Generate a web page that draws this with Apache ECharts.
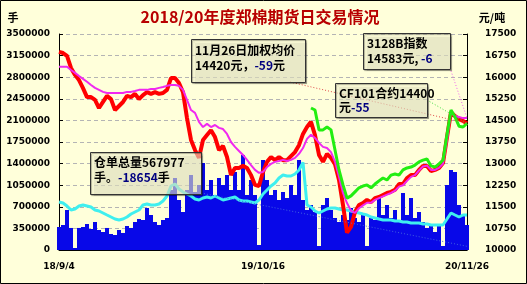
<!DOCTYPE html>
<html><head><meta charset="utf-8">
<script src="https://cdn.jsdelivr.net/npm/echarts/dist/echarts.min.js"></script>
<style>html,body{margin:0;padding:0;background:#FFFFDA}#c{width:527px;height:284px}</style>
</head><body><div id="c"></div>
<script>
// x-axis tick labels and the data index they sit at
const tickLabels = ['18/9/4', '19/10/16', '20/11/26'];
const tickIndex = [0, 51, 102];

// main futures price (元/吨, right axis) - red
const futures = [16880,16840,16740,16320,16080,15900,15620,15310,15310,15210,
 14930,15140,15350,15240,14860,15000,15140,15350,15310,15420,
 15240,15380,15480,15420,15480,15420,15450,15560,15970,15970,
 15800,15480,14580,13820,13470,13200,13820,13990,14160,13920,
 13470,13610,13230,12600,12850,12850,12920,12850,12600,12260,
 12220,12710,13060,13230,13120,13230,13120,13120,13260,13400,
 13640,14030,14270,14450,13990,13300,13060,13340,13200,12980,
 12430,11560,10600,10800,11320,11560,11630,11740,11660,11800,
 11840,11910,11980,12020,12090,12290,12290,12500,12600,12600,
 12780,12920,12920,12740,12780,12850,13020,13920,14790,14650,
 14550,14480,14400];

// 3128B spot index (元/吨, right axis) - magenta
const spotIndex = [16360,16360,16360,16250,16150,16040,15940,15840,15730,15630,
 15560,15490,15450,15450,15450,15450,15450,15490,15490,15520,
 15560,15560,15560,15590,15590,15630,15660,15700,15730,15730,
 15700,15560,15210,14860,14760,14450,14270,14380,14270,14340,
 14240,14200,14030,13750,13580,13440,13300,13130,12950,12780,
 12680,12710,12880,12990,13060,13090,13130,13090,13130,13200,
 13340,13540,13860,14000,13890,13720,13580,13540,13400,13060,
 12540,11980,11630,11360,11290,11450,11550,11640,11640,11740,
 11800,11860,11920,11980,12060,12200,12250,12400,12540,12600,
 12760,12900,12930,12780,12780,12850,12990,13820,14790,14650,
 14620,14580,14583];

// CF101 contract (元/吨, right axis) - green, listed from index cf101Start
const cf101Start = 63;
const cf101 = [14930,14860,14170,14170,14270,14170,13470,12780,12260,11800,
 11880,12020,12160,12220,12260,12160,12290,12400,12500,12430,
 12600,12640,12600,12780,12850,12880,12950,13060,13120,13160,
 12920,12880,12990,13120,14000,14860,14620,14300,14270,14400];

// warehouse receipts (手, left axis) - cyan
const receipts = [778000,762000,713000,648000,664000,713000,729000,713000,697000,648000,
 632000,600000,567000,535000,502000,486000,502000,535000,583000,616000,
 648000,729000,745000,729000,729000,745000,794000,875000,1037000,1070000,
 988000,940000,907000,875000,826000,810000,843000,859000,843000,875000,
 843000,810000,826000,843000,859000,810000,794000,794000,778000,762000,
 810000,907000,972000,1037000,1086000,1167000,1215000,1199000,1199000,1232000,
 1296000,1420000,729000,697000,632000,600000,632000,664000,681000,681000,
 664000,648000,648000,632000,616000,600000,583000,567000,535000,519000,
 502000,486000,486000,486000,470000,470000,454000,454000,438000,438000,
 438000,421000,421000,405000,405000,405000,405000,502000,600000,567000,
 535000,567000,567977];

// daily volume (手, left axis) - blue bars
const volume = [373000,405000,648000,357000,32000,357000,373000,421000,340000,454000,
 324000,292000,357000,259000,243000,324000,276000,389000,357000,454000,
 502000,486000,681000,567000,454000,405000,486000,519000,972000,1167000,
 810000,616000,972000,1215000,940000,1053000,1410000,972000,1134000,891000,
 1167000,1053000,1215000,972000,1264000,972000,1539000,891000,1134000,891000,
 81000,1458000,1134000,891000,972000,810000,940000,843000,1053000,891000,
 1458000,810000,648000,729000,616000,65000,729000,843000,648000,519000,
 454000,567000,486000,681000,519000,454000,567000,65000,519000,486000,
 843000,567000,729000,519000,648000,486000,924000,567000,843000,519000,
 616000,454000,357000,405000,292000,389000,65000,1053000,1296000,1264000,
 729000,567000,405000];

const categories = futures.map((_, i) => String(i));
const cfData = futures.map((_, i) => i < cf101Start ? null : cf101[i - cf101Start]);

const CJK = 'Noto Sans CJK SC';
const NUMF = 'DejaVu Sans';
const chart = echarts.init(document.getElementById('c'));

const axisLbl = {color: '#000', fontWeight: 'bold', fontSize: 9, fontFamily: NUMF};

const option = {
  backgroundColor: '#FFFFDA',
  animation: false,
  grid: {left: 59, right: 60, top: 34, bottom: 34},
  xAxis: {
    type: 'category', data: categories, boundaryGap: false,
    axisLine: {lineStyle: {color: '#000'}}, axisTick: {show: false},
    axisLabel: Object.assign({}, axisLbl, {
      margin: 12,
      interval: (i) => tickIndex.includes(i),
      formatter: (v, i) => { const k = tickIndex.indexOf(i); return k >= 0 ? tickLabels[k] : ''; }
    }),
    splitLine: {show: false}
  },
  yAxis: [
    {type: 'value', min: 0, max: 3500000, interval: 350000, position: 'left',
     axisLine: {show: true, lineStyle: {color: '#000'}},
     axisTick: {show: true, inside: true, length: 4, lineStyle: {color: '#000'}},
     axisLabel: Object.assign({}, axisLbl, {margin: 9, formatter: (v) => String(v)}),
     splitLine: {show: true, lineStyle: {color: '#B4B4B4', type: [4, 3]}}},
    {type: 'value', min: 10000, max: 17500, interval: 750, position: 'right',
     axisLine: {show: true, lineStyle: {color: '#000'}},
     axisTick: {show: true, inside: true, length: 4, lineStyle: {color: '#000'}},
     axisLabel: Object.assign({}, axisLbl, {margin: 18, formatter: (v) => String(v)}),
     splitLine: {show: false}}
  ],
  series: [
    {name: '成交量', type: 'bar', yAxisIndex: 0, data: volume, barCategoryGap: '0%',
     itemStyle: {color: '#0808E8'}, z: 1},
    {name: '仓单', type: 'line', yAxisIndex: 0, data: receipts, symbol: 'none',
     lineStyle: {color: '#3FEFEF', width: 3}, z: 2},
    {name: '主力', type: 'line', yAxisIndex: 1, data: futures, symbol: 'none',
     lineStyle: {color: '#FF0000', width: 4}, z: 3},
    {name: '3128B', type: 'line', yAxisIndex: 1, data: spotIndex, symbol: 'none',
     lineStyle: {color: '#F028F0', width: 2}, z: 4},
    {name: 'CF101', type: 'line', yAxisIndex: 1, data: cfData, symbol: 'none',
     lineStyle: {color: '#22EE11', width: 3}, z: 5}
  ]
};
chart.setOption(option);

function boxEl(x, y, w, h) {
  return {type: 'rect', z: 100, shape: {x: x, y: y, width: w, height: h},
    style: {fill: 'rgba(255,255,218,0.55)', stroke: '#333', lineWidth: 1,
      shadowColor: 'rgba(0,0,0,0.35)', shadowOffsetX: 1, shadowOffsetY: 1, shadowBlur: 1}};
}
function txt(x, y, text) {
  return {type: 'text', z: 101, x: x, y: y,
    style: {text: text, fill: '#000', fontFamily: CJK, fontWeight: 'bold', fontSize: 12,
      verticalAlign: 'middle', align: 'left',
      rich: {n: {fill: '#000080', fontFamily: CJK, fontWeight: 'bold', fontSize: 12}}}};
}
function dotted(p0, p1, color) {
  return {type: 'line', z: 99, shape: {x1: p0[0], y1: p0[1], x2: p1[0], y2: p1[1]},
    style: {stroke: color, lineWidth: 1, lineDash: [1, 2]}};
}
const last = futures.length - 1;
const pRed = chart.convertToPixel({xAxisIndex: 0, yAxisIndex: 1}, [last, futures[last]]);
const pSpot = chart.convertToPixel({xAxisIndex: 0, yAxisIndex: 1}, [last, spotIndex[last]]);
const pCf = chart.convertToPixel({xAxisIndex: 0, yAxisIndex: 1}, [last, cf101[cf101.length - 1]]);
const pBase = chart.convertToPixel({xAxisIndex: 0, yAxisIndex: 0}, [last, 60000]);

chart.setOption({graphic: [
  {type: 'rect', z: 200, shape: {x: 0.5, y: 0.5, width: 526, height: 283},
   style: {fill: 'none', stroke: '#000', lineWidth: 1}},
  {type: 'text', z: 101, x: 260, y: 17,
   style: {text: '2018/20年度郑棉期货日交易情况', fill: '#B80000', fontFamily: CJK, fontWeight: 'bold',
     fontSize: 16, align: 'center', verticalAlign: 'middle'}},
  {type: 'text', z: 101, x: 13, y: 18,
   style: {text: '手', fill: '#000', fontFamily: CJK, fontWeight: 'bold', fontSize: 11, align: 'center', verticalAlign: 'middle'}},
  {type: 'text', z: 101, x: 492, y: 18,
   style: {text: '元/吨', fill: '#000', fontFamily: CJK, fontWeight: 'bold', fontSize: 11, align: 'center', verticalAlign: 'middle'}},
  dotted([290, 82], pRed, '#E04848'),
  dotted([427, 100], pCf, '#44DD44'),
  dotted([450, 68], pSpot, '#F060F0'),
  dotted([201, 193], pBase, '#4060E0'),
  boxEl(191.5, 39.5, 114, 43),
  txt(195, 50, '11月26日加权均价'),
  txt(195, 65, '14420元，{n|-59}元'),
  boxEl(363.5, 33.5, 87, 36),
  txt(367, 43, '3128B指数'),
  txt(367, 58, '14583元, {n|-6}'),
  boxEl(335.5, 83.5, 92, 34),
  txt(339, 93, 'CF101合约14400'),
  txt(339, 107, '元{n|-55}'),
  boxEl(90.5, 152.5, 111, 42),
  txt(94, 162, '仓单总量567977'),
  txt(94, 177, '手。{n|-18654}手')
]});
</script></body></html>
